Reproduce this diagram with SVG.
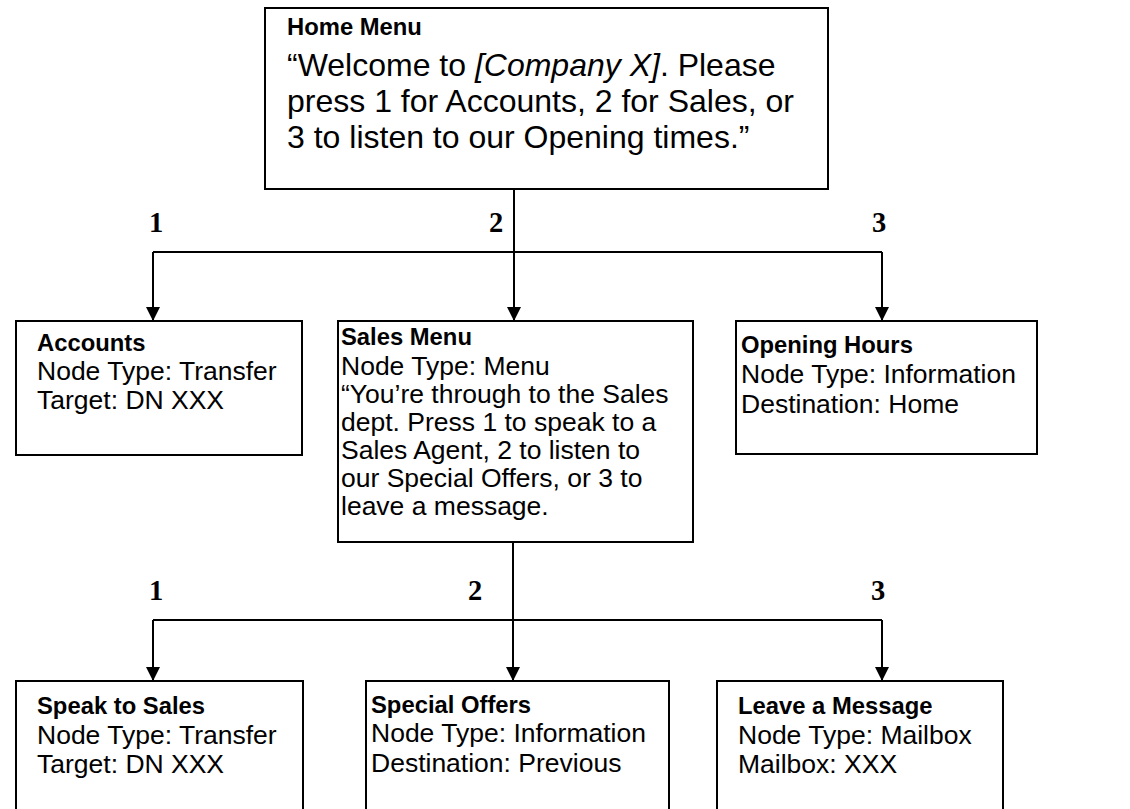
<svg xmlns="http://www.w3.org/2000/svg" width="1130" height="809" viewBox="0 0 1130 809">
<style>
  .box { fill: #ffffff; stroke: #000000; stroke-width: 2; }
  .title { font-family: "Liberation Sans", Arial, sans-serif; font-weight: bold; font-size: 23.8px; fill: #000; }
  .body { font-family: "Liberation Sans", Arial, sans-serif; font-size: 26.5px; fill: #000; }
  .home { font-family: "Liberation Sans", Arial, sans-serif; font-size: 32px; fill: #000; }
  .lbl { font-family: "Liberation Serif", "Times New Roman", serif; font-weight: bold; font-size: 28.5px; fill: #000; text-anchor: middle; }
  .conn { fill: none; stroke: #000000; stroke-width: 2; }
</style>
<defs>
  <marker id="arrow" viewBox="0 0 14 15" refX="14" refY="7" markerWidth="14" markerHeight="15" markerUnits="userSpaceOnUse" orient="auto">
    <path d="M0,0 L14,7 L0,14 Z" fill="#000"/>
  </marker>
</defs>
<rect width="1130" height="809" fill="#ffffff"/>

<g id="connectors">
  <line class="conn" x1="514" y1="189" x2="514" y2="321" marker-end="url(#arrow)"/>
  <line class="conn" x1="153" y1="252" x2="882" y2="252"/>
  <line class="conn" x1="153" y1="252" x2="153" y2="321" marker-end="url(#arrow)"/>
  <line class="conn" x1="882" y1="252" x2="882" y2="321" marker-end="url(#arrow)"/>
  <line class="conn" x1="513" y1="542" x2="513" y2="681" marker-end="url(#arrow)"/>
  <line class="conn" x1="153" y1="620" x2="882" y2="620"/>
  <line class="conn" x1="153" y1="620" x2="153" y2="681" marker-end="url(#arrow)"/>
  <line class="conn" x1="882" y1="620" x2="882" y2="681" marker-end="url(#arrow)"/>
  <text class="lbl" x="156" y="232">1</text>
  <text class="lbl" x="496" y="232">2</text>
  <text class="lbl" x="879" y="232">3</text>
  <text class="lbl" x="156" y="600">1</text>
  <text class="lbl" x="475" y="600">2</text>
  <text class="lbl" x="878" y="600">3</text>
</g>

<g id="home-menu">
  <rect class="box" x="265" y="8" width="563" height="181"/>
  <text class="title" x="287" y="35">Home Menu</text>
  <text class="home" x="287" y="76">“Welcome to <tspan font-style="italic">[Company X]</tspan>. Please</text>
  <text class="home" x="287" y="112">press 1 for Accounts, 2 for Sales, or</text>
  <text class="home" x="287" y="148">3 to listen to our Opening times.”</text>
</g>

<g id="accounts">
  <rect class="box" x="16" y="321" width="286" height="134"/>
  <text class="title" x="37" y="351">Accounts</text>
  <text class="body" x="37" y="380">Node Type: Transfer</text>
  <text class="body" x="37" y="409">Target: DN XXX</text>
</g>

<g id="sales-menu">
  <rect class="box" x="338" y="321" width="355" height="221"/>
  <text class="title" x="341" y="345">Sales Menu</text>
  <text class="body" x="341" y="375">Node Type: Menu</text>
  <text class="body" x="341" y="403">“You’re through to the Sales</text>
  <text class="body" x="341" y="431">dept. Press 1 to speak to a</text>
  <text class="body" x="341" y="459">Sales Agent, 2 to listen to</text>
  <text class="body" x="341" y="487">our Special Offers, or 3 to</text>
  <text class="body" x="341" y="515">leave a message.</text>
</g>

<g id="opening-hours">
  <rect class="box" x="736" y="321" width="301" height="133"/>
  <text class="title" x="741" y="353">Opening Hours</text>
  <text class="body" x="741" y="383">Node Type: Information</text>
  <text class="body" x="741" y="413">Destination: Home</text>
</g>

<g id="speak-to-sales">
  <rect class="box" x="16" y="681" width="287" height="140"/>
  <text class="title" x="37" y="714">Speak to Sales</text>
  <text class="body" x="37" y="744">Node Type: Transfer</text>
  <text class="body" x="37" y="773">Target: DN XXX</text>
</g>

<g id="special-offers">
  <rect class="box" x="366" y="681" width="303" height="140"/>
  <text class="title" x="371" y="713">Special Offers</text>
  <text class="body" x="371" y="742">Node Type: Information</text>
  <text class="body" x="371" y="772">Destination: Previous</text>
</g>

<g id="leave-a-message">
  <rect class="box" x="717" y="681" width="286" height="140"/>
  <text class="title" x="738" y="714">Leave a Message</text>
  <text class="body" x="738" y="744">Node Type: Mailbox</text>
  <text class="body" x="738" y="773">Mailbox: XXX</text>
</g>
</svg>
